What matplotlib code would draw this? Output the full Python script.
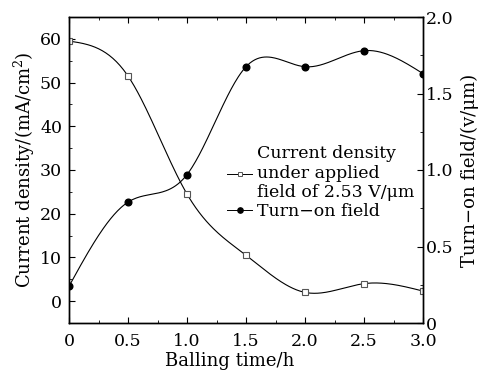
import numpy as np
import matplotlib
matplotlib.use("Agg")
import matplotlib.pyplot as plt
from matplotlib.ticker import MultipleLocator, FuncFormatter
from matplotlib.lines import Line2D

time_h = [0, 0.5, 1.0, 1.5, 2.0, 2.5, 3.0]
current_density = [59.5, 51.5, 24.5, 10.5, 2.0, 4.0, 2.3]
turn_on_field = [0.24, 0.79, 0.97, 1.675, 1.675, 1.78, 1.63]

plt.rcParams['font.family'] = ['DejaVu Serif']
plt.rcParams['mathtext.fontset'] = 'dejavuserif'
FS = 12.5
LFS = 13


def natural_spline(x, y, n=300):
    x = np.asarray(x, float); y = np.asarray(y, float)
    m = len(x); h = np.diff(x)
    A = np.zeros((m, m)); b = np.zeros(m)
    A[0, 0] = A[-1, -1] = 1
    for i in range(1, m - 1):
        A[i, i - 1] = h[i - 1]; A[i, i] = 2 * (h[i - 1] + h[i]); A[i, i + 1] = h[i]
        b[i] = 3 * ((y[i + 1] - y[i]) / h[i] - (y[i] - y[i - 1]) / h[i - 1])
    c = np.linalg.solve(A, b)
    xs = np.linspace(x[0], x[-1], n)
    idx = np.clip(np.searchsorted(x, xs) - 1, 0, m - 2)
    dx = xs - x[idx]
    bb = (y[idx + 1] - y[idx]) / h[idx] - h[idx] * (2 * c[idx] + c[idx + 1]) / 3
    d = (c[idx + 1] - c[idx]) / (3 * h[idx])
    ys = y[idx] + bb * dx + c[idx] * dx ** 2 + d * dx ** 3
    return xs, ys


fig = plt.figure(figsize=(4.88, 3.74), dpi=100)
ax = fig.add_axes([69 / 488, 1 - 323 / 374, (423 - 69) / 488, (323 - 17) / 374])
ax2 = ax.twinx()

xs, ys = natural_spline(time_h, current_density)
ax.plot(xs, ys, color='black', lw=0.8)
ax.plot(time_h, current_density, ls='none', marker='s', ms=3.8, mfc='white',
        mec='#555555', mew=0.8)

xs2, ys2 = natural_spline(time_h, turn_on_field)
ax2.plot(xs2, ys2, color='black', lw=0.8)
ax2.plot(time_h, turn_on_field, ls='none', marker='o', ms=4.8, mfc='black',
         mec='black')

ax.set_xlim(0, 3.0)
ax.set_ylim(-5, 65)
ax2.set_ylim(0, 2.0)

ax.xaxis.set_major_locator(MultipleLocator(0.5))
ax.xaxis.set_minor_locator(MultipleLocator(0.25))
ax.yaxis.set_major_locator(MultipleLocator(10))
ax.yaxis.set_minor_locator(MultipleLocator(5))
ax2.yaxis.set_major_locator(MultipleLocator(0.5))
ax2.yaxis.set_minor_locator(MultipleLocator(0.25))

ax.xaxis.set_major_formatter(FuncFormatter(lambda v, p: '0' if abs(v) < 1e-9 else f'{v:.1f}'))
ax2.yaxis.set_major_formatter(FuncFormatter(lambda v, p: '0' if abs(v) < 1e-9 else f'{v:.1f}'))
ax.set_yticks([0, 10, 20, 30, 40, 50, 60])

ax.tick_params(axis='both', which='both', direction='in', labelsize=FS)
ax.tick_params(axis='x', which='both', top=True, pad=7)
ax.tick_params(axis='y', which='both', right=False, pad=5)
ax.tick_params(which='major', length=4, width=0.8)
ax.tick_params(which='minor', length=2.5, width=0.6)
ax2.tick_params(axis='y', which='both', direction='in', labelsize=FS, pad=2)
ax2.tick_params(which='major', length=4, width=0.8)
ax2.tick_params(which='minor', length=2.5, width=0.6)

for a in (ax, ax2):
    for s in a.spines.values():
        s.set_linewidth(1.0)

ax.set_xlabel('Balling time/h', fontsize=LFS, labelpad=1)
ax.xaxis.set_label_coords(0.455, -0.095)
ax.set_ylabel('Current density/(mA/cm$^2$)', fontsize=LFS, labelpad=2)
ax2.set_ylabel('Turn\u2212on field/(v/\u03bcm)', fontsize=LFS, labelpad=5)

h1 = Line2D([], [], color='black', lw=0.7, marker='s', ms=3.0, mfc='white',
            mec='#555555', mew=0.7)
h2 = Line2D([], [], color='black', lw=0.7, marker='o', ms=3.8, mfc='black', mec='black')
ax.legend([h1, h2], ['Current density\nunder applied\nfield of 2.53 V/\u03bcm', 'Turn\u2212on field'],
          loc='upper left', bbox_to_anchor=(0.423, 0.61), frameon=False, fontsize=FS,
          handlelength=1.4, handletextpad=0.3, borderpad=0.0, labelspacing=0.1,
          numpoints=1)

fig.savefig('out.png', dpi=100)
